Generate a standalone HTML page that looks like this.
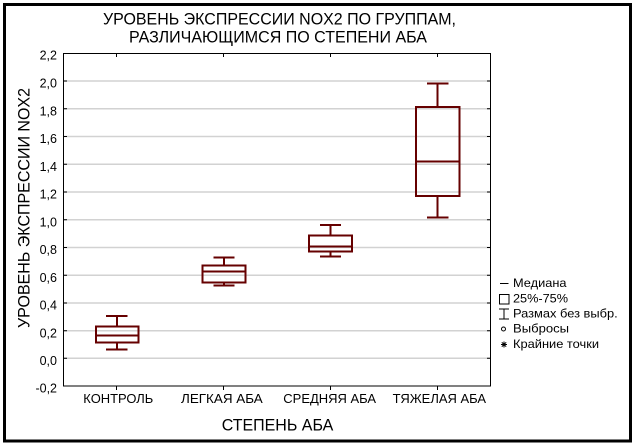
<!DOCTYPE html>
<html><head><meta charset="utf-8"><style>
html,body{margin:0;padding:0;background:#fff;width:634px;height:446px;overflow:hidden}
svg{display:block}
text{font-family:"Liberation Sans",Arial,"Noto Sans CJK SC",sans-serif;fill:#000}
</style></head><body>
<svg width="634" height="446" viewBox="0 0 634 446" xmlns="http://www.w3.org/2000/svg">
<rect x="0" y="0" width="634" height="446" fill="#fff"/>
<rect x="4.5" y="4.5" width="626" height="436.5" fill="#fff" stroke="#000" stroke-width="3"/>
<!-- gridlines -->
<g stroke="#d2d2d2" stroke-width="1.5">
<line x1="63" x2="491" y1="81" y2="81"/>
<line x1="63" x2="491" y1="108.8" y2="108.8"/>
<line x1="63" x2="491" y1="136.5" y2="136.5"/>
<line x1="63" x2="491" y1="164.3" y2="164.3"/>
<line x1="63" x2="491" y1="192" y2="192"/>
<line x1="63" x2="491" y1="219.8" y2="219.8"/>
<line x1="63" x2="491" y1="247.5" y2="247.5"/>
<line x1="63" x2="491" y1="275.3" y2="275.3"/>
<line x1="63" x2="491" y1="303" y2="303"/>
<line x1="63" x2="491" y1="330.8" y2="330.8"/>
<line x1="63" x2="491" y1="358.3" y2="358.3"/>
</g>
<!-- plot frame -->
<rect x="63.5" y="53.5" width="427" height="332.5" fill="none" stroke="#000" stroke-width="1"/>
<!-- ticks -->
<g stroke="#000" stroke-width="1">
<path d="M63 81h4M63 108.8h4M63 136.5h4M63 164.3h4M63 192h4M63 219.8h4M63 247.5h4M63 275.3h4M63 303h4M63 330.8h4M63 358.3h4"/>
<path d="M491 81h-4M491 108.8h-4M491 136.5h-4M491 164.3h-4M491 192h-4M491 219.8h-4M491 247.5h-4M491 275.3h-4M491 303h-4M491 330.8h-4M491 358.3h-4"/>
<path d="M116.5 53v4M223.5 53v4M330.5 53v4M437.5 53v4"/>
<path d="M116.5 386v4M223.5 386v4M330.5 386v4M437.5 386v4"/>
</g>
<!-- boxes -->
<g stroke="#660000" stroke-width="2" fill="none">
<path d="M117 316v10.5M117 342.5v7M106 316h21.5M106 349.5h21.5"/>
<rect x="96" y="326.5" width="42.5" height="16"/>
<path d="M96 335.5h42.5"/>
<path d="M224 257.5v8M224 282.5v3M213.5 257.5h21M213.5 285.5h21"/>
<rect x="202.5" y="265.5" width="43" height="17"/>
<path d="M202.5 271.5h43"/>
<path d="M330.5 225v10.5M330.5 251.5v5M320 225h21M320 256.5h21"/>
<rect x="309" y="235.5" width="43" height="16"/>
<path d="M309 246.5h43"/>
<path d="M437.5 83.5v23.5M437.5 196v21.5M427 83.5h21.5M427 217.5h21.5"/>
<rect x="416" y="107" width="43.5" height="89"/>
<path d="M416 161.5h43.5"/>
</g>
<!-- title -->
<text x="103" y="24.5" font-size="16.5" textLength="353" lengthAdjust="spacingAndGlyphs">УРОВЕНЬ ЭКСПРЕССИИ NOX2 ПО ГРУППАМ,</text>
<text x="129" y="42.5" font-size="16.5" textLength="298" lengthAdjust="spacingAndGlyphs">РАЗЛИЧАЮЩИМСЯ ПО СТЕПЕНИ АБА</text>
<!-- y tick labels -->
<g font-size="12.5" text-anchor="end">
<text x="57" y="59.5">2,2</text>
<text x="57" y="87.5">2,0</text>
<text x="57" y="115.3">1,8</text>
<text x="57" y="143">1,6</text>
<text x="57" y="170.8">1,4</text>
<text x="57" y="198.5">1,2</text>
<text x="57" y="226.3">1,0</text>
<text x="57" y="254">0,8</text>
<text x="57" y="281.8">0,6</text>
<text x="57" y="309.5">0,4</text>
<text x="57" y="337.3">0,2</text>
<text x="57" y="364.8">0,0</text>
<text x="57" y="392.5">-0,2</text>
</g>
<!-- x tick labels -->
<g font-size="12.5">
<text x="83.3" y="403" textLength="70" lengthAdjust="spacingAndGlyphs">КОНТРОЛЬ</text>
<text x="181" y="403" textLength="81.7" lengthAdjust="spacingAndGlyphs">ЛЕГКАЯ АБА</text>
<text x="283.3" y="403" textLength="92.7" lengthAdjust="spacingAndGlyphs">СРЕДНЯЯ АБА</text>
<text x="392.7" y="403" textLength="93.3" lengthAdjust="spacingAndGlyphs">ТЯЖЕЛАЯ АБА</text>
</g>
<!-- axis titles -->
<text x="221.7" y="430.7" font-size="16.5" textLength="111.6" lengthAdjust="spacingAndGlyphs">СТЕПЕНЬ АБА</text>
<text transform="translate(29.5,328) rotate(-90)" x="0" y="0" font-size="16.5" fill="#10103a" textLength="240" lengthAdjust="spacingAndGlyphs">УРОВЕНЬ ЭКСПРЕССИИ NOX2</text>
<!-- legend -->
<g stroke="#000" stroke-width="1" fill="none">
<path d="M500 283.5h8.5"/>
<rect x="499.5" y="294.5" width="9.5" height="9.5"/>
<path d="M504 309v10M499 309h10M499 319h10"/>
<circle cx="503.5" cy="329" r="2"/>
<path d="M501 344.5h6M504 341.5v6M501.8 342.3l4.4 4.4M506.2 342.3l-4.4 4.4"/>
</g>
<g font-size="12">
<text x="513" y="287" textLength="53.5" lengthAdjust="spacingAndGlyphs">Медиана</text>
<text x="513" y="302.5" textLength="55" lengthAdjust="spacingAndGlyphs">25%-75%</text>
<text x="513" y="317.5" textLength="104.7" lengthAdjust="spacingAndGlyphs">Размах без выбр.</text>
<text x="513" y="332.7" textLength="56" lengthAdjust="spacingAndGlyphs">Выбросы</text>
<text x="513" y="348" textLength="86" lengthAdjust="spacingAndGlyphs">Крайние точки</text>
</g>
</svg>
</body></html>
